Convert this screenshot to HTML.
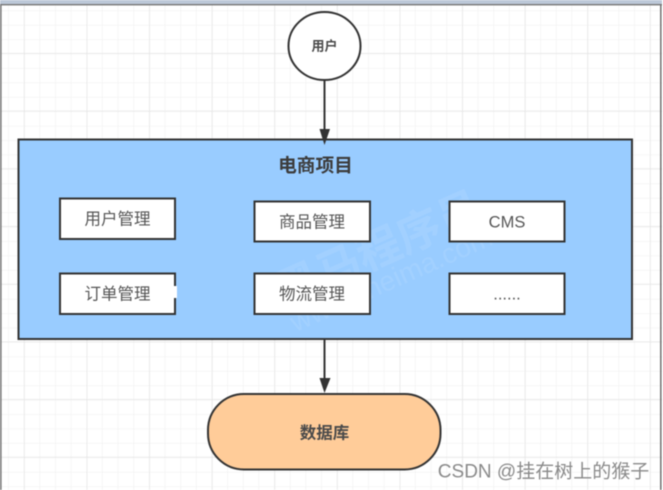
<!DOCTYPE html>
<html><head><meta charset="utf-8"><style>
html,body{margin:0;padding:0;background:#fff}
svg{display:block;filter:blur(.45px)}
text{font-family:"Liberation Sans","Noto Sans CJK SC",sans-serif;text-anchor:middle}
</style></head><body>
<svg width="663" height="490" viewBox="0 0 663 490" xmlns="http://www.w3.org/2000/svg">
<defs>
<pattern id="minor" x="8.2" y="10.5" width="15.65" height="14.42" patternUnits="userSpaceOnUse">
<path d="M0 0V14.42M0 0H15.65" stroke="#efefef" stroke-width="1.1" fill="none"/>
</pattern>
<pattern id="major" x="24" y="53" width="62.6" height="57.68" patternUnits="userSpaceOnUse">
<path d="M0 0V57.68M0 0H62.6" stroke="#e4e4e4" stroke-width="1.3" fill="none"/>
</pattern>
</defs>
<rect width="663" height="490" fill="#fff"/>
<rect width="663" height="490" fill="url(#minor)"/>
<rect width="663" height="490" fill="url(#major)"/>
<rect x="0" y="0" width="663" height="4" fill="#bcc8d8"/>
<rect x="0" y="4" width="663" height="1.4" fill="#777"/>
<rect x="0" y="4" width="1.6" height="486" fill="#777"/>
<rect x="660" y="4" width="1.6" height="486" fill="#777"/>
<rect x="662" y="0" width="1" height="490" fill="#fff"/>

<ellipse cx="324.5" cy="46" rx="36" ry="34" fill="#fff" stroke="#333" stroke-width="2"/>
<text x="324.5" y="50.5" font-size="13" font-weight="700" fill="#4a4a4a">用户</text>
<line x1="324.5" y1="80" x2="324.5" y2="132" stroke="#333" stroke-width="2"/>

<rect x="18.5" y="139.5" width="613.5" height="199.5" fill="#99ccff" stroke="#333" stroke-width="2"/>
<path d="M319.5 129H330L324.5 145Z" fill="#333"/>
<g opacity=".09" fill="#fff">
<text x="0" y="0" font-size="44" font-weight="700" transform="translate(385 263) rotate(-24)">黑马程序员</text>
<text x="0" y="0" font-size="28" transform="translate(395 288) rotate(-24)">www.itheima.com</text>
</g>
<text x="315.5" y="172" font-size="18.7" font-weight="700" fill="#3c3c3c">电商项目</text>

<g fill="#fff" stroke="#333" stroke-width="2">
<rect x="60" y="198.5" width="115" height="40.5"/>
<rect x="254.5" y="201.5" width="115.5" height="40"/>
<rect x="449.5" y="201.5" width="115" height="40"/>
<rect x="60" y="273.5" width="115" height="40.5"/>
<rect x="254.5" y="273.5" width="115.5" height="40.5"/>
<rect x="449.5" y="273.5" width="115" height="40.5"/>
</g>
<rect x="172" y="286" width="5" height="12" fill="#fff"/>
<g font-size="16.5" fill="#555">
<text x="117.5" y="224.5">用户管理</text>
<text x="312" y="227.5">商品管理</text>
<text x="507" y="227.5">CMS</text>
<text x="117.5" y="299.5">订单管理</text>
<text x="312" y="299.5">物流管理</text>
<text x="507" y="299.5">......</text>
</g>

<line x1="324.5" y1="339" x2="324.5" y2="382" stroke="#333" stroke-width="2"/>
<path d="M319.5 378H330.5L324.5 393Z" fill="#333"/>
<rect x="208" y="394" width="232.5" height="75.5" rx="36" ry="36" fill="#ffcc99" stroke="#333" stroke-width="2"/>
<text x="324.5" y="438.5" font-size="16.5" font-weight="700" fill="#4a4a4a">数据库</text>

<text x="543.5" y="477.5" font-size="19" fill="#8a8a8a">CSDN @挂在树上的猴子</text>
</svg>
</body></html>
